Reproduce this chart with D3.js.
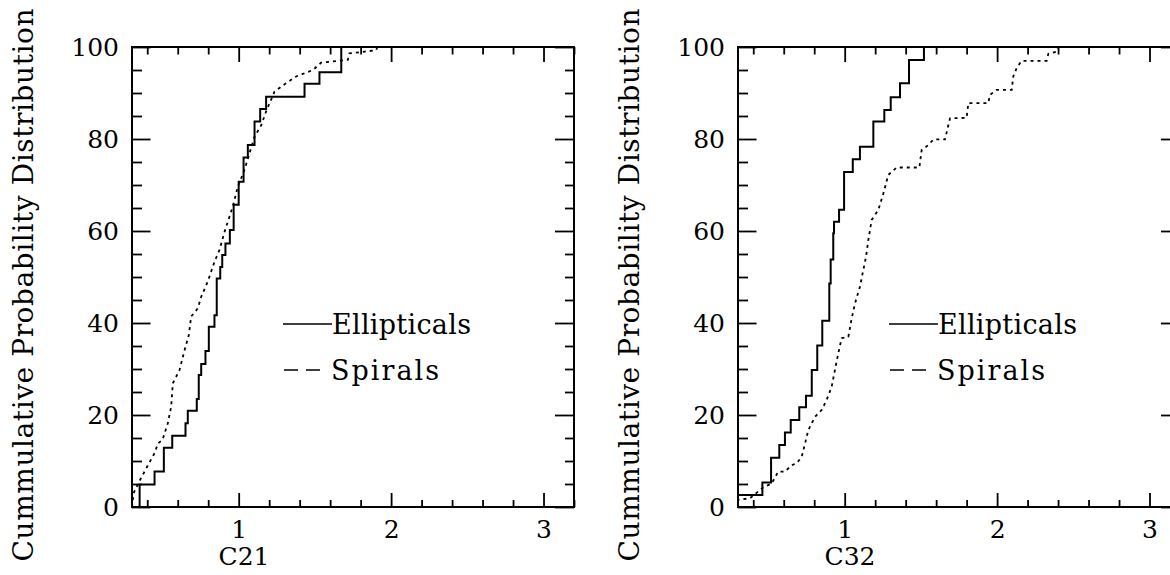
<!DOCTYPE html>
<html>
<head>
<meta charset="utf-8">
<script src="https://cdn.jsdelivr.net/npm/d3@7"></script>
<style>
  body { margin: 0; background: #fff; }
  svg text, .tick text { font-family: "DejaVu Serif", serif; fill: #000; }
  .tick text { font-size: 25px; }
</style>
</head>
<body>
<div id="chart"></div>
<script>
// C21 panel: cumulative distribution (step position, percent after step)
var ellC21X = [0.35, 0.448, 0.509, 0.564, 0.651, 0.666, 0.725, 0.738, 0.754, 0.782, 0.804, 0.841, 0.856, 0.879, 0.892, 0.913, 0.942, 0.967, 1.0, 1.032, 1.06, 1.104, 1.141, 1.18, 1.432, 1.53, 1.673];
var ellC21Y = [4.9, 7.7, 12.9, 15.5, 18.2, 20.9, 23.5, 28.7, 31.1, 33.9, 39.2, 41.7, 49.7, 52.2, 54.8, 57.3, 60.2, 65.7, 70.7, 76, 78.7, 83.8, 86.5, 89.2, 92, 94.5, 100];
var spiC21X = [0.30, 0.31, 0.35, 0.40, 0.448, 0.47, 0.50, 0.535, 0.557, 0.568, 0.612, 0.645, 0.673, 0.688, 0.732, 0.754, 0.797, 0.841, 0.874, 0.907, 0.961, 0.994, 1.038, 1.071, 1.104, 1.148, 1.18, 1.235, 1.31, 1.377, 1.487, 1.541, 1.716, 1.727, 1.902, 1.91];
var spiC21Y = [0, 3, 5.7, 8.8, 11.7, 13.8, 14.6, 18.2, 21.8, 26.9, 29.8, 34.1, 37.4, 41.4, 43.2, 45.7, 49, 53.3, 55.9, 59.8, 65.3, 69.6, 73.3, 76.9, 80.5, 83, 86, 90.3, 92.1, 93.6, 95, 96.6, 97.2, 98.6, 99.3, 100];

// C32 panel
var ellC32X = [0.28, 0.46, 0.517, 0.571, 0.608, 0.646, 0.702, 0.746, 0.784, 0.82, 0.853, 0.899, 0.908, 0.925, 0.93, 0.963, 0.996, 1.053, 1.1, 1.188, 1.26, 1.302, 1.363, 1.422, 1.52];
var ellC32Y = [2.6, 5.3, 10.7, 13.5, 16.2, 18.9, 21.7, 24.2, 29.8, 35.1, 40.5, 48.6, 53.8, 59.5, 62, 64.6, 72.8, 75.6, 78.3, 83.8, 86.3, 89.1, 92.1, 97.2, 100];
var spiC32X = [0.29, 0.379, 0.466, 0.521, 0.564, 0.608, 0.652, 0.685, 0.718, 0.74, 0.761, 0.805, 0.849, 0.882, 0.915, 0.936, 0.958, 0.98, 1.024, 1.046, 1.068, 1.1, 1.122, 1.14, 1.155, 1.177, 1.221, 1.254, 1.286, 1.341, 1.49, 1.505, 1.549, 1.582, 1.658, 1.691, 1.8, 1.811, 1.942, 1.953, 1.997, 2.096, 2.106, 2.128, 2.16, 2.325, 2.336, 2.39, 2.4];
var spiC32Y = [1.5, 1.9, 4.3, 5.1, 7.7, 7.7, 9.1, 9.5, 10.9, 13.8, 16.7, 19.6, 21.1, 23.3, 26.2, 29.8, 33.4, 36.7, 37, 41, 44.3, 47.9, 51.5, 54.4, 58, 62.4, 64.6, 68.2, 72.2, 73.8, 73.8, 77.6, 78.7, 79.9, 79.9, 84.5, 84.6, 87.8, 87.8, 89.6, 90.7, 90.7, 93.6, 95.4, 97, 97, 98.5, 99, 100];

// ticks
var xMajorTicks = [1, 2, 3];
var xMinorTicks = [0.4, 0.6, 0.8, 1.2, 1.4, 1.6, 1.8, 2.2, 2.4, 2.6, 2.8, 3.2];
var yMajorTicks = [0, 20, 40, 60, 80, 100];
var yMinorTicks = [5, 10, 15, 25, 30, 35, 45, 50, 55, 65, 70, 75, 85, 90, 95];

var yLabel = "Cummulative Probability Distribution";
var legendNames = ["Ellipticals", "Spirals"];

var svgWidth = 1170, svgHeight = 575;
var width = 442, height = 460;

var svg = d3.select("#chart").append("svg")
  .attr("width", svgWidth)
  .attr("height", svgHeight);

var panels = [
  { left: 132, top: 47, title: "C21", ellX: ellC21X, ellY: ellC21Y, spiX: spiC21X, spiY: spiC21Y },
  { left: 738, top: 47, title: "C32", ellX: ellC32X, ellY: ellC32Y, spiX: spiC32X, spiY: spiC32Y }
];

var xScale = d3.scaleLinear().domain([0.3, 3.2]).range([0, width]);
var yScale = d3.scaleLinear().domain([0, 100]).range([height, 0]);

function tickStyle(g) {
  g.select(".domain").remove();
  g.selectAll(".tick line").attr("stroke", "#000").attr("stroke-width", 1.8);
}

panels.forEach(function(p, i) {
  var g = svg.append("g").attr("transform", `translate(${p.left}, ${p.top})`);

  g.append("clipPath").attr("id", "clip" + i)
    .append("rect").attr("width", width).attr("height", height);

  // ticks on all four sides, pointing inward
  g.append("g").attr("transform", `translate(0, ${height})`)
    .call(d3.axisBottom(xScale).tickValues(xMajorTicks).tickSize(-14).tickPadding(13).tickFormat(d3.format("d")))
    .call(tickStyle);
  g.append("g").attr("transform", `translate(0, ${height})`)
    .call(d3.axisBottom(xScale).tickValues(xMinorTicks).tickSize(-7).tickFormat(""))
    .call(tickStyle);
  g.append("g")
    .call(d3.axisTop(xScale).tickValues(xMajorTicks).tickSize(-15).tickFormat(""))
    .call(tickStyle);
  g.append("g")
    .call(d3.axisTop(xScale).tickValues(xMinorTicks).tickSize(-7.5).tickFormat(""))
    .call(tickStyle);
  g.append("g")
    .call(d3.axisLeft(yScale).tickValues(yMajorTicks).tickSize(-18.5).tickPadding(13))
    .call(tickStyle);
  g.append("g")
    .call(d3.axisLeft(yScale).tickValues(yMinorTicks).tickSize(-10).tickFormat(""))
    .call(tickStyle);
  g.append("g").attr("transform", `translate(${width}, 0)`)
    .call(d3.axisRight(yScale).tickValues(yMajorTicks).tickSize(-19).tickFormat(""))
    .call(tickStyle);
  g.append("g").attr("transform", `translate(${width}, 0)`)
    .call(d3.axisRight(yScale).tickValues(yMinorTicks).tickSize(-9).tickFormat(""))
    .call(tickStyle);

  // frame
  g.append("rect")
    .attr("width", width).attr("height", height)
    .attr("fill", "none").attr("stroke", "#000").attr("stroke-width", 2);

  // curves
  var ellPts = [[p.ellX[0], 0]].concat(p.ellX.map(function(x, k) { return [x, p.ellY[k]]; }));
  var spiPts = p.spiX.map(function(x, k) { return [x, p.spiY[k]]; });

  var stepLine = d3.line().curve(d3.curveStepAfter)
    .x(d => xScale(d[0])).y(d => yScale(d[1]));
  var plainLine = d3.line()
    .x(d => xScale(d[0])).y(d => yScale(d[1]));

  g.append("path").datum(spiPts)
    .attr("clip-path", `url(#clip${i})`)
    .attr("d", plainLine)
    .attr("fill", "none").attr("stroke", "#000")
    .attr("stroke-width", 1.8).attr("stroke-dasharray", "3,4");

  g.append("path").datum(ellPts)
    .attr("clip-path", `url(#clip${i})`)
    .attr("d", stepLine)
    .attr("fill", "none").attr("stroke", "#000")
    .attr("stroke-width", 2);

  // legend
  g.append("line")
    .attr("x1", 151).attr("x2", 200).attr("y1", 277).attr("y2", 277)
    .attr("stroke", "#000").attr("stroke-width", 1.6);
  g.append("text")
    .attr("x", 200).attr("y", 287)
    .attr("font-size", 27)
    .attr("textLength", 139).attr("lengthAdjust", "spacing")
    .text(legendNames[0]);

  g.append("line")
    .attr("x1", 152).attr("x2", 189).attr("y1", 323).attr("y2", 323)
    .attr("stroke", "#000").attr("stroke-width", 1.6)
    .attr("stroke-dasharray", "14,8");
  g.append("text")
    .attr("x", 199).attr("y", 333)
    .attr("font-size", 27)
    .attr("textLength", 108).attr("lengthAdjust", "spacing")
    .text(legendNames[1]);

  // axis titles
  g.append("text")
    .attr("x", 112).attr("y", height + 58)
    .attr("text-anchor", "middle")
    .attr("font-size", 25)
    .text(p.title);

  g.append("text")
    .attr("transform", `translate(-99, ${238}) rotate(-90)`)
    .attr("text-anchor", "middle")
    .attr("font-size", 28)
    .attr("textLength", 553).attr("lengthAdjust", "spacing")
    .text(yLabel);
});
</script>
</body>
</html>
